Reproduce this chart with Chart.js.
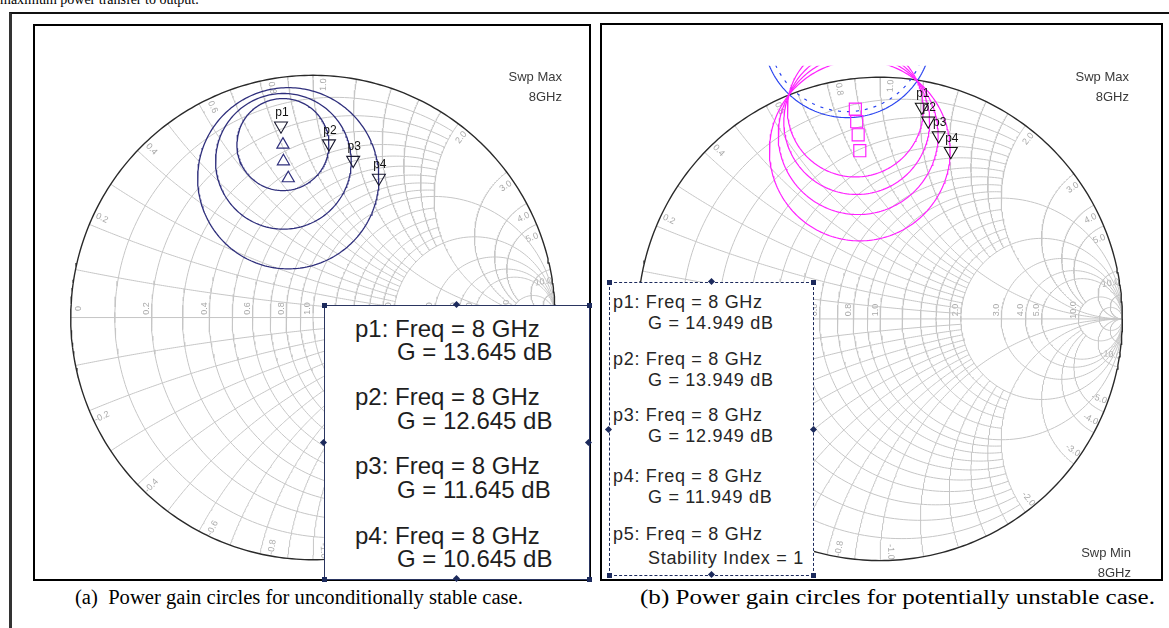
<!DOCTYPE html>
<html><head><meta charset="utf-8">
<script src="https://cdn.jsdelivr.net/npm/chart.js@4.4.0/dist/chart.umd.min.js"></script>
<style>
html,body{margin:0;padding:0;background:#fff;}
body{width:1169px;height:628px;position:relative;overflow:hidden;font-family:"Liberation Sans",Arial,sans-serif;}
.abs{position:absolute;white-space:pre;}
.frame{position:absolute;box-sizing:border-box;border:2px solid #000;}
canvas{position:absolute;}
.box{position:absolute;box-sizing:border-box;background:#fff;}
.h{position:absolute;width:5px;height:5px;background:#1c2a5c;}
.d{position:absolute;width:5px;height:5px;background:#1c2a5c;transform:rotate(45deg);}
.lt{position:absolute;white-space:pre;font-size:24px;line-height:24px;color:#1e1e1e;}
.rt{position:absolute;white-space:pre;font-size:18px;line-height:18px;color:#262626;letter-spacing:0.7px;}
.swp{position:absolute;white-space:pre;font-size:13px;line-height:13px;color:#3a3a3a;text-align:right;width:100px;}
.cap{position:absolute;white-space:pre;font-family:"Liberation Serif","Times New Roman",serif;font-size:20px;line-height:20px;color:#000;transform-origin:0 0;}
</style></head><body>

<div class="abs" style="left:0;top:-7px;font-family:'Liberation Serif',serif;font-size:14px;line-height:14px;">maximum power transfer to output.</div>
<div style="position:absolute;left:9px;top:12px;width:1162px;height:620px;box-sizing:border-box;border-left:3px solid #333;border-top:2px solid #111;"></div>

<div class="frame" style="left:33px;top:24px;width:558px;height:557px;"></div>
<div class="frame" style="left:600px;top:23px;width:563px;height:558px;"></div>

<canvas id="cA" width="554" height="552" style="left:35px;top:27px;"></canvas>
<canvas id="cB" width="558" height="522" style="left:603px;top:56px;"></canvas>

<div class="swp" style="left:462px;top:69.6px;">Swp Max</div>
<div class="swp" style="left:462px;top:90.4px;">8GHz</div>
<div class="swp" style="left:1029px;top:70.3px;">Swp Max</div>
<div class="swp" style="left:1029px;top:90.3px;">8GHz</div>
<div class="swp" style="left:1031px;top:546px;">Swp Min</div>
<div class="swp" style="left:1031px;top:566px;">8GHz</div>

<!-- legend (a) -->
<div class="box" style="left:324px;top:305px;width:266px;height:275px;border:1px solid #2a3560;"></div>
<div class="h" style="left:322px;top:303px;"></div><div class="d" style="left:454px;top:302px;"></div><div class="h" style="left:587px;top:303px;"></div>
<div class="d" style="left:321px;top:440px;"></div><div class="d" style="left:586px;top:440px;"></div>
<div class="h" style="left:322px;top:577px;"></div><div class="d" style="left:454px;top:576px;"></div><div class="h" style="left:587px;top:577px;"></div>
<div id="legA"></div>

<!-- legend (b) -->
<div class="box" style="left:609px;top:282px;width:205px;height:294px;border:1px dashed #1c2a5c;"></div>
<div class="h" style="left:607px;top:280px;"></div><div class="d" style="left:709px;top:279px;"></div><div class="h" style="left:811px;top:280px;"></div>
<div class="d" style="left:606px;top:427px;"></div><div class="d" style="left:811px;top:427px;"></div>
<div class="h" style="left:607px;top:573px;"></div><div class="d" style="left:709px;top:572px;"></div><div class="h" style="left:811px;top:573px;"></div>
<div id="legB"></div>

<div class="cap" id="capA" style="left:75px;top:587px;">(a)  Power gain circles for unconditionally stable case.</div>
<div class="cap" id="capB" style="left:640px;top:587px;">(b) Power gain circles for potentially unstable case.</div>

<script>
// ---------------- DATA ----------------
// Smith chart grid (normalized resistance / reactance) and how far each line reaches
const resistanceValues = [0.1,0.2,0.3,0.4,0.5,0.6,0.7,0.8,0.9,1.0,1.2,1.4,1.6,1.8,2.0,3.0,4.0,5.0,10.0,20.0];
const resistanceReach  = [2,2,2,2,2,2,2,2,2,Infinity,2,2,2,2,Infinity,Infinity,Infinity,Infinity,Infinity,Infinity];
const reactanceValues  = [0.1,0.2,0.3,0.4,0.5,0.6,0.7,0.8,0.9,1.0,1.2,1.4,1.6,1.8,2.0,3.0,4.0,5.0,10.0,20.0];
const reactanceReach   = [2,2,2,2,2,2,2,2,2,Infinity,2,2,2,2,Infinity,10,10,10,Infinity,Infinity];
const gridLabelValues  = [0.2,0.4,0.6,0.8,1.0,2.0,3.0,4.0,5.0,10.0];

// (a) unconditionally stable case: gain circles in the reflection-coefficient plane
const stableMarkerNames = ['p1','p2','p3','p4'];
const stableGainDb      = ['13.645','12.645','11.645','10.645'];
const stableCircleCx    = [-0.124,-0.122,-0.102];
const stableCircleCy    = [0.714,0.645,0.575];
const stableCircleR     = [0.190,0.280,0.374];
const stableMarkerX     = [-0.132,0.066,0.166,0.272];
const stableMarkerY     = [0.792,0.718,0.650,0.576];

// (b) potentially unstable case
const unstableMarkerNames = ['p1','p2','p3','p4'];
const unstableGainDb      = ['14.949','13.949','12.949','11.949'];
const unstableCircleCx    = [-0.102,-0.0964,-0.0904,-0.0837];
const unstableCircleCy    = [0.868,0.816,0.762,0.696];
const unstableCircleR     = [0.2805,0.301,0.330,0.373];
const unstableMarkerX     = [0.1725,0.199,0.242,0.292];
const unstableMarkerY     = [0.877,0.820,0.759,0.694];
const stabilityCx = [-0.135], stabilityCy = [1.182], stabilityR = [0.349];
const stabilityIndex = 1;
const sweepFreq = '8 GHz';

// ---------------- GEOMETRY HELPERS ----------------
function gam(r, x){ const d=(r+1)*(r+1)+x*x; return {x:(r*r+x*x-1)/d, y:2*x/d}; }
function circlePts(cx, cy, r, n){ n=n||240; const p=[]; for(let i=0;i<=n;i++){const a=2*Math.PI*i/n; p.push({x:cx+r*Math.cos(a), y:cy+r*Math.sin(a)});} return p; }
function rArc(r, xm){
  const c=r/(1+r), rho=1/(1+r); let a0, a1;
  if(!isFinite(xm)){a0=0;a1=2*Math.PI;} else {const g=gam(r,xm); const psi=Math.atan2(g.y,g.x-c); a0=psi; a1=2*Math.PI-psi;}
  const p=[]; const n=180; for(let i=0;i<=n;i++){const a=a0+(a1-a0)*i/n; p.push({x:c+rho*Math.cos(a), y:rho*Math.sin(a)});} return p;
}
function xArc(x, rm, sgn){
  const cy=1/x, rho=1/x; const g0=gam(0,x); const g1=isFinite(rm)?gam(rm,x):{x:1,y:0};
  const norm=a=>{while(a<0)a+=2*Math.PI; return a;};
  const a0=norm(Math.atan2(g0.y-cy,g0.x-1)); let a1=norm(Math.atan2(g1.y-cy,g1.x-1));
  if(a1<a0) a1+=2*Math.PI;
  const p=[]; const n=160; for(let i=0;i<=n;i++){const a=a0+(a1-a0)*i/n; p.push({x:1+rho*Math.cos(a), y:sgn*(cy+rho*Math.sin(a))});} return p;
}
function gridDatasets(){
  const ds=[]; const st={showLine:true,pointRadius:0,borderColor:'#c6c6c6',borderWidth:1,order:10,fill:false};
  ds.push(Object.assign({data:[{x:-1,y:0},{x:1,y:0}]},st));
  resistanceValues.forEach((r,i)=>ds.push(Object.assign({data:rArc(r,resistanceReach[i])},st)));
  reactanceValues.forEach((x,i)=>{ ds.push(Object.assign({data:xArc(x,reactanceReach[i],1)},st)); ds.push(Object.assign({data:xArc(x,reactanceReach[i],-1)},st)); });
  ds.push({data:circlePts(0,0,1,360),showLine:true,pointRadius:0,borderColor:'#2a2a2a',borderWidth:1.4,order:9});
  return ds;
}
function fmt(v){ return v.toFixed(1); }

const smithLabels = {
  id:'smithLabels',
  beforeDatasetsDraw(chart){
    const ctx=chart.ctx, sx=chart.scales.x, sy=chart.scales.y;
    const cx=sx.getPixelForValue(0), cy=sy.getPixelForValue(0), R=sx.getPixelForValue(1)-cx;
    ctx.save(); ctx.fillStyle='#a9a9a9'; ctx.font='9px "Liberation Sans", Arial';
    ctx.textAlign='center'; ctx.textBaseline='middle';
    const axisVals=[0].concat(gridLabelValues);
    axisVals.forEach(r=>{
      const g=(r-1)/(r+1); let px=cx+g*R-5; if(r===0) px=cx-R+8;
      ctx.save(); ctx.translate(px, cy-9); ctx.rotate(-Math.PI/2); ctx.fillText(r===0?'0':fmt(r),0,0); ctx.restore();
    });
    gridLabelValues.forEach(x=>{
      [1,-1].forEach(s=>{
        const g=gam(0,x*s); let th=Math.atan2(g.y,g.x); th -= s*(11/R);
        const rr=R-9; const px=cx+rr*Math.cos(th), py=cy-rr*Math.sin(th);
        let ang=-th; while(ang>Math.PI/2) ang-=Math.PI; while(ang<=-Math.PI/2) ang+=Math.PI;
        ctx.save(); ctx.translate(px,py); ctx.rotate(ang); ctx.fillText((s<0?'-':'')+fmt(x),0,0); ctx.restore();
      });
    });
    ctx.restore();
  },
  afterDatasetsDraw(chart){
    const ctx=chart.ctx, sx=chart.scales.x, sy=chart.scales.y;
    ctx.save(); ctx.fillStyle='#111'; ctx.font='12px "Liberation Sans", Arial'; ctx.textAlign='center'; ctx.textBaseline='middle';
    chart.data.datasets.forEach(d=>{ if(d.markerLabels){ d.data.forEach((pt,i)=>{ ctx.fillText(d.markerLabels[i], sx.getPixelForValue(pt.x)+1, sy.getPixelForValue(pt.y)-13); }); } });
    ctx.restore();
  }
};

function makeSmith(id, geom, datasets){
  const c=document.getElementById(id);
  const w=c.width, h=c.height;
  const ox=geom.cx-geom.left, oy=geom.cy-geom.top, R=geom.R;
  new Chart(c,{type:'scatter',data:{datasets:datasets.concat(gridDatasets())},
    options:{responsive:false,animation:false,events:[],layout:{padding:0},
      plugins:{legend:{display:false},tooltip:{enabled:false}},
      scales:{x:{type:'linear',display:false,min:-ox/R,max:(w-ox)/R},y:{type:'linear',display:false,min:-(h-oy)/R,max:oy/R}},
      elements:{line:{tension:0}}},
    plugins:[smithLabels]});
}
const zip=(xs,ys)=>xs.map((v,i)=>({x:v,y:ys[i]}));

// chart (a)
const dsA=[];
stableCircleR.forEach((r,i)=>dsA.push({data:circlePts(stableCircleCx[i],stableCircleCy[i],r),showLine:true,pointRadius:0,borderColor:'#2f2f7c',borderWidth:1.3,order:3}));
dsA.push({data:zip(stableCircleCx,stableCircleCy),pointStyle:'triangle',pointRadius:7,pointBorderColor:'#2f2f7c',pointBackgroundColor:'rgba(0,0,0,0)',pointBorderWidth:1.2,order:1});
dsA.push({data:zip(stableMarkerX,stableMarkerY),markerLabels:stableMarkerNames,pointStyle:'triangle',pointRotation:180,pointRadius:7.5,pointBorderColor:'#1a1a30',pointBackgroundColor:'rgba(0,0,0,0)',pointBorderWidth:1.1,order:0});
makeSmith('cA',{left:35,top:27,cx:313,cy:318,R:250},dsA);

// chart (b)
const dsB=[];
dsB.push({data:circlePts(stabilityCx[0],stabilityCy[0],stabilityR[0]),showLine:true,pointRadius:0,borderColor:'#2b45f0',borderWidth:1.2,order:4});
dsB.push({data:circlePts(stabilityCx[0],stabilityCy[0],stabilityR[0]-0.025),showLine:true,pointRadius:0,borderColor:'#2b45f0',borderWidth:1.2,borderDash:[3,6],order:4});
unstableCircleR.forEach((r,i)=>dsB.push({data:circlePts(unstableCircleCx[i],unstableCircleCy[i],r),showLine:true,pointRadius:0,borderColor:'#ff22ff',borderWidth:1.2,order:3}));
dsB.push({data:zip(unstableCircleCx,unstableCircleCy),pointStyle:'rect',pointRadius:8.5,pointBorderColor:'#ff22ff',pointBackgroundColor:'rgba(0,0,0,0)',pointBorderWidth:1.2,order:1});
dsB.push({data:zip(unstableMarkerX,unstableMarkerY),markerLabels:unstableMarkerNames,pointStyle:'triangle',pointRotation:180,pointRadius:7.5,pointBorderColor:'#111',pointBackgroundColor:'rgba(0,0,0,0)',pointBorderWidth:1.1,order:0});
makeSmith('cB',{left:603,top:56,cx:880,cy:319,R:251},dsB);

// ---------------- LEGENDS ----------------
function addLine(parent, cls, text, x, top){ const d=document.createElement('div'); d.className=cls; d.textContent=text; d.style.left=x+'px'; d.style.top=top+'px'; parent.appendChild(d); }
const legA=document.getElementById('legA');
const aP=[337,405.5,474.5,543.8];
stableMarkerNames.forEach((n,i)=>{ addLine(legA,'lt',n+': Freq = '+sweepFreq,355,aP[i]-20.3); addLine(legA,'lt','G = '+stableGainDb[i]+' dB',397,aP[i]+23.5-20.3); });
const legB=document.getElementById('legB');
const bP=[308.3,365,421,482.3,540];
unstableMarkerNames.forEach((n,i)=>{ addLine(legB,'rt',n+': Freq = '+sweepFreq,613,bP[i]-15.2); addLine(legB,'rt','G = '+unstableGainDb[i]+' dB',648,bP[i]+20.8-15.2); });
addLine(legB,'rt','p5: Freq = '+sweepFreq,613,bP[4]-15.2);
addLine(legB,'rt','Stability Index = '+stabilityIndex,648,bP[4]+24.3-15.2);

// captions fitted to their measured widths
[['capA',448],['capB',515]].forEach(([id,w])=>{ const e=document.getElementById(id); e.style.transform='scaleX('+(w/e.offsetWidth)+')'; });
</script>
</body></html>
